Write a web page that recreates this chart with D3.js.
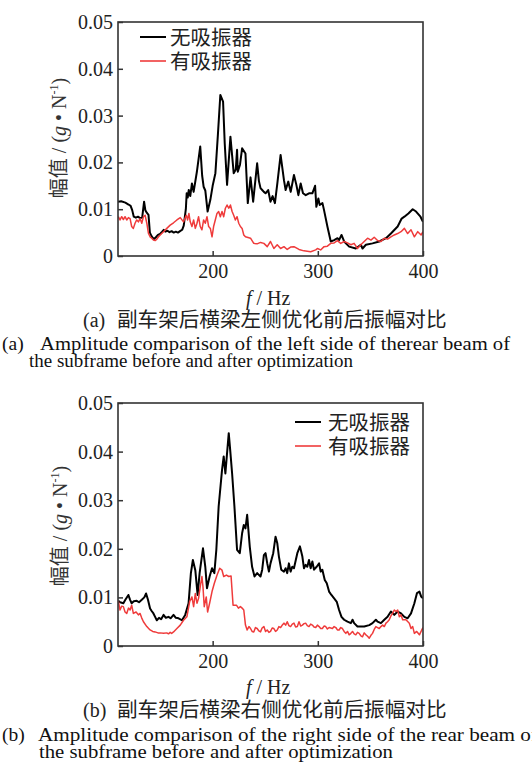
<!DOCTYPE html>
<html><head><meta charset="utf-8">
<script src="https://cdn.jsdelivr.net/npm/d3@7"></script>
<style>body{margin:0;background:#fff}svg{display:block}</style>
</head><body><svg id="c" width="532" height="773"></svg>
<script>
// ---- DATA (frequency in Hz, amplitude in g/N) ----
const topNoAbsFreq = [110,113,117,120,122,123.5,125,127,129,131,133,134.8,136,137.5,139,140.3,142,144,146,148,150,152,153.5,155,157,159,161,163,165,167,169,171,172.5,174.5,175.3,176.3,177.3,178.7,180.3,181.9,185,188.2,190,191.4,193,195.2,197.8,200,202.6,205,207.3,209.9,211.5,213.7,216.9,218.5,220,222,223.2,223.9,226,228,231.2,233.4,236,238.5,242.3,244,245.5,247.1,248.7,250.3,252.8,255,257,259.2,261.5,264.6,267.8,269.4,271.9,274.2,277.3,279.6,281.5,283.7,285.9,288.5,291.6,294.8,297.4,298.6,300.5,301.8,304.4,305.9,309.1,312.3,315.5,318.7,320.2,322.5,325,329.8,336.1,340.9,342.5,345.7,352,358.4,364.8,369.5,375.9,379.7,382.3,386.1,390.2,393.4,397.6,400];
const topNoAbsAmp = [.0116,.0117,.0114,.0110,.0107,.0098,.0084,.0082,.0084,.0081,.0082,.0116,.0098,.0092,.0088,.0050,.0042,.0036,.0040,.0045,.0047,.0052,.0056,.0052,.0054,.0051,.0053,.0050,.0052,.0050,.0053,.0056,.0065,.0100,.0134,.0125,.0141,.0128,.0155,.0137,.0180,.0234,.0172,.0148,.0140,.0095,.0120,.0150,.0177,.0260,.0344,.0330,.0240,.0152,.0255,.0215,.0177,.0185,.0227,.0180,.0195,.0230,.0219,.0113,.0168,.0116,.0198,.0160,.0145,.0141,.0137,.0134,.0141,.0116,.0128,.0113,.0155,.0216,.0162,.0141,.0159,.0137,.0173,.0152,.0130,.0155,.0134,.0130,.0134,.0134,.0150,.0105,.0123,.0109,.0113,.0098,.0063,.0031,.0034,.0038,.0034,.0045,.0031,.0020,.0016,.0024,.0016,.0024,.0027,.0031,.0038,.0048,.0063,.0080,.0084,.0091,.0100,.0095,.0084,.0073];

const topWithAbsFreq = [110.3,111.9,113.5,115.1,116.7,118.3,119.9,121.5,123,124.6,126.2,127.8,129.4,131,132.6,134.2,135.8,137.4,138.9,140.5,142.1,143.7,145.3,146.9,148.5,150.1,153.3,156.4,159.6,162.8,166,169.2,172.3,174.9,176.2,177.4,178.7,180.3,181.9,183.5,185.1,186.6,188.2,189.8,191.4,193,194.6,196.2,197.8,199.4,200.9,202.5,204.1,205.7,207.3,208.9,210.5,212.1,213.7,215.3,216.9,218.5,220,221.6,223.2,224.8,226.4,228,229.6,231.2,232.8,236,239.1,242.3,245.5,248.7,251.9,255,258.2,261.4,264.6,267.8,270.9,274.1,277.3,282.1,286.8,293.2,298,299.6,302.7,305.9,309.1,312.3,315.5,318.6,321.8,325,328.2,331.4,334.5,337.7,340.9,344.1,347.3,350.5,353.6,356.8,360,363.2,366.3,369.5,372.7,375.9,379.1,382.3,385.4,388.6,391.8,395,398.2,400];
const topWithAbsAmp = [.0084,.0077,.0084,.0078,.0084,.0077,.0082,.0080,.0063,.0059,.0070,.0077,.0073,.0080,.0070,.0084,.0087,.0070,.0049,.0041,.0038,.0034,.0033,.0036,.0041,.0045,.0052,.0059,.0066,.0071,.0077,.0082,.0073,.0087,.0077,.0091,.0073,.0063,.0077,.0059,.0070,.0084,.0063,.0056,.0077,.0070,.0084,.0063,.0059,.0041,.0063,.0077,.0091,.0095,.0084,.0095,.0084,.0102,.0109,.0102,.0109,.0095,.0087,.0077,.0084,.0070,.0063,.0059,.0045,.0041,.0040,.0038,.0027,.0026,.0029,.0027,.0020,.0031,.0016,.0024,.0016,.0020,.0014,.0019,.0020,.0014,.0011,.0009,.0013,.0016,.0013,.0020,.0021,.0027,.0028,.0033,.0027,.0031,.0028,.0024,.0027,.0016,.0024,.0031,.0038,.0034,.0040,.0033,.0031,.0038,.0036,.0041,.0045,.0048,.0052,.0059,.0048,.0056,.0041,.0052,.0045,.0052];

const botNoAbsFreq = [110.3,112,115.1,117,119.9,121.5,123,125,127.8,130,132.6,135,136.7,138.5,140.5,142,143.7,145.3,146.9,149,151,153.3,155.5,158,160,162.8,165,167.6,170.8,173.9,177.1,179.3,181.2,183.5,185.7,187.6,190.8,193,194.6,197.1,199.4,201.6,203.5,205.7,208.9,210.5,212.1,213.7,215.3,216.8,218.5,220.7,223.2,225.8,228,229.6,231.2,232.8,235.3,237.5,239.8,242.3,245.5,247.1,248.7,250.3,251.9,253.5,255,257.6,259.8,261.4,263,265.2,267.8,269.4,270.9,272.5,274.1,275.7,277.3,280.5,283,285.3,286.8,288.4,290,291.6,293.2,294.8,296.4,298.9,301.2,302.7,304.3,306.6,308.5,310.7,312.9,315.5,318,320.2,322.5,325,328.2,331.4,333,334.5,337.7,344.1,348.9,352,355.2,356.8,360,363.2,366.3,369.5,372.7,375.9,379.1,382.3,385.4,388.6,391.8,394.3,396.6,398.2,400];
const botNoAbsAmp = [.0093,.0090,.0088,.0095,.0105,.0095,.0088,.0092,.0093,.0090,.0095,.0100,.0108,.0095,.0077,.0072,.0067,.0060,.0053,.0058,.0055,.0064,.0058,.0060,.0057,.0064,.0058,.0057,.0053,.0064,.0088,.0150,.0177,.0156,.0105,.0150,.0201,.0163,.0119,.0143,.0160,.0150,.0198,.0287,.0362,.0390,.0355,.0397,.0438,.0400,.0355,.0287,.0198,.0191,.0232,.0249,.0242,.0270,.0204,.0163,.0143,.0150,.0143,.0157,.0187,.0191,.0170,.0153,.0170,.0191,.0225,.0212,.0184,.0157,.0153,.0160,.0150,.0170,.0153,.0163,.0160,.0191,.0205,.0184,.0160,.0167,.0163,.0177,.0160,.0174,.0157,.0163,.0170,.0153,.0157,.0136,.0129,.0112,.0105,.0098,.0091,.0074,.0060,.0054,.0050,.0047,.0054,.0047,.0040,.0040,.0043,.0047,.0054,.0050,.0047,.0054,.0060,.0071,.0064,.0071,.0067,.0060,.0057,.0067,.0088,.0109,.0112,.0102,.0098];

const botWithAbsFreq = [110.3,111.9,113.5,115.1,116.7,118.3,120,121.5,123,124.6,127.2,129.4,131,132.5,134.2,137.4,140.5,143,145.3,148,150.1,153.3,156.4,158,159.6,161,162.8,166,169.2,172.3,175.5,178.1,180.3,181.9,183.5,185.1,186.6,188.2,189.8,190.8,192,193.9,195.2,197.1,199.4,201.6,204.2,206.7,208.9,210.5,213.1,215.3,217.5,219.4,222.6,224.5,226.4,228,229.6,231.2,232.8,234.5,236,237.5,239.1,240.7,242.3,244,245.5,247,248.7,250.3,251.9,253.5,255,256.6,258.2,259.8,261.4,263,264.6,266.2,267.8,269.4,270.9,272.5,274.1,275.7,277.3,278.9,280.5,282.1,283.7,285.3,286.9,288.4,290,291.6,293.2,294.8,296.4,298,299.6,301.2,302.7,304.3,305.9,307.5,309.1,310.7,312.3,313.9,315.5,317.1,318.6,320.2,321.8,323.4,325,326.6,328.2,329.8,331.4,333,334.5,336.1,337.7,339.3,340.9,342.5,344.1,345.7,347.3,348.9,350.5,352,353.6,355.2,356.8,358.4,360,361.6,363.2,364.8,366.3,367.9,369.5,371.1,372.7,374.3,375.9,377.5,379.1,380.7,383.8,387,388.6,390.2,391.8,394,396.6,398.8,400];
const botWithAbsAmp = [.0093,.0074,.0082,.0081,.0070,.0067,.0078,.0074,.0084,.0067,.0070,.0064,.0067,.0058,.0050,.0040,.0033,.0030,.0029,.0027,.0027,.0026,.0027,.0025,.0028,.0026,.0029,.0036,.0043,.0053,.0060,.0091,.0101,.0081,.0108,.0088,.0098,.0122,.0143,.0122,.0081,.0101,.0070,.0088,.0112,.0129,.0146,.0160,.0156,.0143,.0146,.0143,.0144,.0084,.0084,.0078,.0081,.0078,.0074,.0043,.0033,.0040,.0036,.0030,.0029,.0038,.0036,.0031,.0029,.0037,.0040,.0030,.0033,.0028,.0030,.0037,.0036,.0030,.0033,.0040,.0038,.0043,.0047,.0043,.0050,.0042,.0040,.0045,.0047,.0039,.0040,.0050,.0041,.0043,.0046,.0047,.0042,.0040,.0045,.0043,.0039,.0038,.0043,.0040,.0036,.0036,.0041,.0040,.0035,.0038,.0037,.0036,.0040,.0038,.0033,.0033,.0038,.0036,.0030,.0026,.0030,.0023,.0026,.0030,.0025,.0023,.0028,.0026,.0021,.0019,.0027,.0023,.0020,.0016,.0022,.0026,.0034,.0040,.0038,.0036,.0040,.0043,.0040,.0047,.0050,.0054,.0062,.0067,.0074,.0071,.0074,.0060,.0064,.0054,.0054,.0047,.0036,.0040,.0026,.0030,.0023,.0033,.0038];

const xDomain = [110, 400];
const yDomain = [0, 0.05];
const xTickValues = [200, 300, 400];
const yTickValues = [0, 0.01, 0.02, 0.03, 0.04, 0.05];
const yTickLabels = ["0", "0.01", "0.02", "0.03", "0.04", "0.05"];
const seriesNames = ["无吸振器", "有吸振器"];
const cnCaptions = ["副车架后横梁左侧优化前后振幅对比", "副车架后横梁右侧优化前后振幅对比"];
const enCaptionsL1 = ["Amplitude comparison of the left side of therear beam of", "Amplitude comparison of the right side of the rear beam of"];
const enCaptionsL2 = ["the subframe before and after optimization", "the subframe before and after optimization"];
const panelTags = ["(a)", "(b)"];

// ---- DRAWING ----
const svg = d3.select("#c");
svg.append("rect").attr("width", 532).attr("height", 773).attr("fill", "#fff");
const SERIF = "'Liberation Serif','Times New Roman',serif";
const CJK = "'Noto Sans CJK SC','Noto Sans',sans-serif";
const BLACK = "#000", RED = "#ef3b3b", FRAME = "#333";

const panels = [
  {top: 22, bottom: 256, series: [[topNoAbsFreq, topNoAbsAmp], [topWithAbsFreq, topWithAbsAmp]],
   legend: {lx: 140, tx: 170, y1: 37, y2: 61}, ytitleY: 138, ytitleX: 66,
   fhz: 305, cn: 327, en1: 350, en2: 367, en1x: 40, en1w: 470, en2x: 29, en2w: 324},
  {top: 403, bottom: 646, series: [[botNoAbsFreq, botNoAbsAmp], [botWithAbsFreq, botWithAbsAmp]],
   legend: {lx: 295, tx: 328, y1: 422, y2: 446}, ytitleY: 526, ytitleX: 67,
   fhz: 694, cn: 717, en1: 741, en2: 758, en1x: 38, en1w: 500, en2x: 39, en2w: 354}
];
const L = 118, R = 423;

panels.forEach((p, i) => {
  const x = d3.scaleLinear().domain(xDomain).range([L, R]);
  const y = d3.scaleLinear().domain(yDomain).range([p.bottom, p.top]);
  const g = svg.append("g");
  const clipId = "clip" + i;
  svg.append("clipPath").attr("id", clipId).append("rect")
    .attr("x", L).attr("y", p.top).attr("width", R - L).attr("height", p.bottom - p.top);

  const line = d3.line().x(d => x(d[0])).y(d => y(d[1]));
  const colors = [BLACK, RED], widths = [2, 1.5];
  p.series.forEach((s, k) => {
    const pts = s[0].map((f, j) => [f, s[1][j]]);
    g.append("path").datum(pts).attr("d", line).attr("fill", "none")
      .attr("stroke", colors[k]).attr("stroke-width", widths[k])
      .attr("stroke-linejoin", "round").attr("clip-path", `url(#${clipId})`);
  });

  // frame
  g.append("rect").attr("x", L).attr("y", p.top).attr("width", R - L).attr("height", p.bottom - p.top)
    .attr("fill", "none").attr("stroke", FRAME).attr("stroke-width", 1.6);

  // axes
  const ya = g.append("g").attr("transform", `translate(${L},0)`)
    .call(d3.axisLeft(y).tickValues(yTickValues).tickSize(-5).tickPadding(5)
      .tickFormat((d, j) => yTickLabels[j]));
  const xa = g.append("g").attr("transform", `translate(0,${p.bottom})`)
    .call(d3.axisBottom(x).tickValues(xTickValues).tickSize(-5).tickPadding(8).tickFormat(d3.format("d")));
  [ya, xa].forEach(a => {
    a.select(".domain").remove();
    a.selectAll("line").attr("stroke", FRAME).attr("stroke-width", 1.5);
    a.selectAll("text").attr("fill", "#222").style("font-family", SERIF).style("font-size", "20px");
  });

  // legend (one text block, two lines)
  const lg = p.legend;
  [lg.y1, lg.y2].forEach((ly, k) => {
    g.append("line").attr("x1", lg.lx).attr("x2", lg.lx + 26).attr("y1", ly).attr("y2", ly)
      .attr("stroke", colors[k]).attr("stroke-width", k ? 1.6 : 2);
  });
  const lt = g.append("text").style("font-family", CJK).style("font-size", "20.5px").attr("fill", "#222");
  [lg.y1, lg.y2].forEach((ly, k) => {
    lt.append("tspan").attr("x", lg.tx).attr("y", ly + 8).text(seriesNames[k]);
  });

  // y title
  const yt = g.append("text").attr("transform", `translate(${p.ytitleX},${p.ytitleY}) rotate(-90)`)
    .attr("text-anchor", "middle").attr("fill", "#333").style("font-size", "20px");
  yt.append("tspan").style("font-family", CJK).text("幅值");
  yt.append("tspan").style("font-family", SERIF).text(" / (");
  yt.append("tspan").style("font-family", SERIF).style("font-style", "italic").text("g");
  yt.append("tspan").style("font-family", SERIF).text(" • N");
  yt.append("tspan").style("font-family", SERIF).style("font-size", "12px").attr("dy", -8).text("-1");
  yt.append("tspan").style("font-family", SERIF).attr("dy", 8).text(")");

  // x title + captions as one multi-line text block
  const cap = g.append("text").attr("fill", "#222").style("font-family", SERIF).style("font-size", "20px");
  cap.append("tspan").attr("x", 246).attr("y", p.fhz).style("font-style", "italic").text("f");
  cap.append("tspan").text(" / Hz");
  cap.append("tspan").attr("x", 83).attr("y", p.cn).text(panelTags[i]);
  cap.append("tspan").attr("x", 117).attr("y", p.cn).style("font-family", CJK).style("font-size", "20.6px")
    .text(cnCaptions[i]);
  cap.append("tspan").attr("x", 2).attr("y", p.en1).style("font-size", "19.5px").attr("fill", "#111")
    .text(panelTags[i]);
  cap.append("tspan").attr("x", p.en1x).attr("y", p.en1).style("font-size", "19.5px").attr("fill", "#111")
    .attr("textLength", p.en1w).attr("lengthAdjust", "spacingAndGlyphs").text(enCaptionsL1[i]);
  cap.append("tspan").attr("x", p.en2x).attr("y", p.en2).style("font-size", "19.5px").attr("fill", "#111")
    .attr("textLength", p.en2w).attr("lengthAdjust", "spacingAndGlyphs").text(enCaptionsL2[i]);
});
</script></body></html>
